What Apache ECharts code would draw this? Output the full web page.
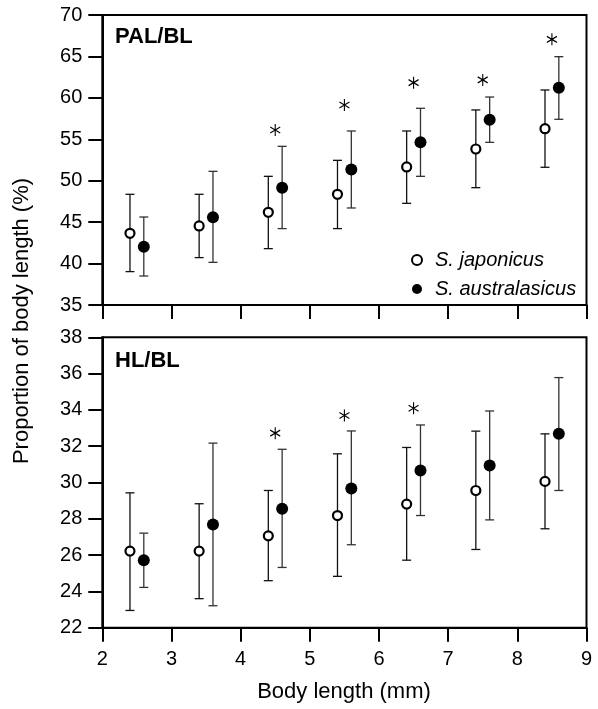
<!DOCTYPE html>
<html><head><meta charset="utf-8">
<script src="https://cdn.jsdelivr.net/npm/echarts@6/dist/echarts.min.js"></script>
<style>html,body{margin:0;padding:0;background:#fff}#c{width:598px;height:709px}</style>
</head><body><div id="c"></div>
<script>
// ---- data ----
const xJap = [2.4, 3.4, 4.4, 5.4, 6.4, 7.4, 8.4];
const xAus = [2.6, 3.6, 4.6, 5.6, 6.6, 7.6, 8.6];

const palJapMean = [43.65, 44.54, 46.19, 48.36, 51.66, 53.83, 56.28];
const palJapLow  = [39.03, 40.72, 41.80, 44.22, 47.27, 49.16, 51.62];
const palJapHigh = [48.36, 48.36, 50.53, 52.46, 56.00, 58.54, 60.95];
const palAusMean = [42.04, 45.58, 49.16, 51.34, 54.63, 57.37, 61.23];
const palAusLow  = [38.50, 40.15, 44.22, 46.71, 50.53, 54.63, 57.41];
const palAusHigh = [45.62, 51.13, 54.15, 56.00, 58.74, 60.10, 64.97];
const palStarX = [4.5, 5.5, 6.5, 7.5, 8.5];
const palStarY = [56.12, 59.14, 61.83, 62.16, 67.06];

const hlJapMean = [26.22, 26.22, 27.06, 28.18, 28.81, 29.56, 30.06];
const hlJapLow  = [22.95, 23.60, 24.59, 24.83, 25.72, 26.31, 27.45];
const hlJapHigh = [29.43, 28.83, 29.56, 31.58, 31.93, 32.83, 32.68];
const hlAusMean = [25.71, 27.69, 28.55, 29.67, 30.66, 30.94, 32.68];
const hlAusLow  = [24.22, 23.21, 25.32, 26.57, 28.18, 27.94, 29.56];
const hlAusHigh = [27.21, 32.17, 31.83, 32.84, 33.17, 33.94, 35.78];
const hlStarX = [4.5, 5.5, 6.5];
const hlStarY = [32.72, 33.69, 34.09];

const seriesNames = ['S. japonicus', 'S. australasicus'];
const panelLabels = ['PAL/BL', 'HL/BL'];
const xTitle = 'Body length (mm)';
const yTitle = 'Proportion of body length (%)';

// ---- helpers ----
const FONT = '"Liberation Sans", Arial, Helvetica, sans-serif';
const zip = (a, b) => a.map((v, i) => [v, b[i]]);
const zip3 = (a, b, c) => a.map((v, i) => [v, b[i], c[i]]);

function errBar(color) {
  return function (params, api) {
    const x = api.value(0), lo = api.value(1), hi = api.value(2);
    const p1 = api.coord([x, lo]), p2 = api.coord([x, hi]);
    const w = 4.5;
    const style = { stroke: color, lineWidth: 1.3, fill: null };
    return { type: 'group', children: [
      { type: 'line', shape: { x1: p1[0], y1: p1[1], x2: p2[0], y2: p2[1] }, style },
      { type: 'line', shape: { x1: p1[0] - w, y1: p1[1], x2: p1[0] + w, y2: p1[1] }, style },
      { type: 'line', shape: { x1: p2[0] - w, y1: p2[1], x2: p2[0] + w, y2: p2[1] }, style }
    ]};
  };
}

const starPath = 'path://M5,0L5,12M0,3L10,9M0,9L10,3';

function panelSeries(idx, jm, jl, jh, am, al, ah, sx, sy) {
  return [
    { type: 'custom', xAxisIndex: idx, yAxisIndex: idx, renderItem: errBar('#111'),
      encode: { x: 0, y: [1, 2] }, data: zip3(xJap, jl, jh), z: 2, silent: true },
    { type: 'custom', xAxisIndex: idx, yAxisIndex: idx, renderItem: errBar('#333'),
      encode: { x: 0, y: [1, 2] }, data: zip3(xAus, al, ah), z: 2, silent: true },
    { name: seriesNames[0], type: 'scatter', xAxisIndex: idx, yAxisIndex: idx,
      symbol: 'circle', symbolSize: 9, z: 5,
      itemStyle: { color: '#fff', borderColor: '#000', borderWidth: 2.2, opacity: 1 },
      data: zip(xJap, jm) },
    { name: seriesNames[1], type: 'scatter', xAxisIndex: idx, yAxisIndex: idx,
      symbol: 'circle', symbolSize: 12, z: 5,
      itemStyle: { color: '#000', opacity: 1 },
      data: zip(xAus, am) },
    { type: 'scatter', xAxisIndex: idx, yAxisIndex: idx, symbol: starPath,
      symbolSize: [10, 12], z: 5, silent: true,
      itemStyle: { color: 'transparent', borderColor: '#000', borderWidth: 1.2, opacity: 1 },
      data: zip(sx, sy) }
  ];
}

const axisCommon = {
  axisLine: { show: true, onZero: false, lineStyle: { color: '#000', width: 2 } },
  axisTick: { show: true, inside: false, length: 14, lineStyle: { color: '#000', width: 2 } },
  splitLine: { show: false },
};

const chart = echarts.init(document.getElementById('c'), null, { renderer: 'canvas' });
chart.setOption({
  animation: false,
  backgroundColor: '#fff',
  grid: [
    { left: 102.3, right: 11.5, top: 15, height: 290, show: true, borderColor: '#000', borderWidth: 2 },
    { left: 102.3, right: 11.5, top: 337.3, height: 290.4, show: true, borderColor: '#000', borderWidth: 2 }
  ],
  xAxis: [
    Object.assign({ type: 'value', gridIndex: 0, min: 2, max: 9, interval: 1,
      axisLabel: { show: false } }, axisCommon),
    Object.assign({ type: 'value', gridIndex: 1, min: 2, max: 9, interval: 1,
      axisLabel: { show: true, margin: 22, fontSize: 20, color: '#000', fontFamily: FONT } }, axisCommon)
  ],
  yAxis: [
    Object.assign({ type: 'value', gridIndex: 0, min: 35, max: 70, interval: 5,
      axisLabel: { margin: 20, fontSize: 20, color: '#000', fontFamily: FONT } }, axisCommon),
    Object.assign({ type: 'value', gridIndex: 1, min: 22, max: 38, interval: 2,
      axisLabel: { margin: 20, fontSize: 20, color: '#000', fontFamily: FONT } }, axisCommon)
  ],
  legend: {
    left: 406, top: 245, orient: 'vertical', itemWidth: 10, itemHeight: 10, itemGap: 9,
    textStyle: { fontStyle: 'italic', fontSize: 20, fontFamily: FONT, color: '#000', padding: [0, 0, 0, 8] },
    selectedMode: false,
    data: [
      { name: seriesNames[0], icon: 'circle', itemStyle: { color: '#fff', borderColor: '#000', borderWidth: 2 } },
      { name: seriesNames[1], icon: 'circle', itemStyle: { color: '#000', borderWidth: 0 } }
    ]
  },
  graphic: [
    { type: 'text', left: 115, top: 26, style: { text: panelLabels[0], font: 'bold 22px ' + FONT, fill: '#000' } },
    { type: 'text', left: 115, top: 350, style: { text: panelLabels[1], font: 'bold 22px ' + FONT, fill: '#000' } },
    { type: 'text', x: 344, y: 692, style: { text: xTitle, font: '22px ' + FONT, fill: '#000', align: 'center', verticalAlign: 'middle' } },
    { type: 'text', x: 22, y: 321, rotation: Math.PI / 2, style: { text: yTitle, font: '22px ' + FONT, fill: '#000', align: 'center', verticalAlign: 'middle' } }
  ],
  series: [].concat(
    panelSeries(0, palJapMean, palJapLow, palJapHigh, palAusMean, palAusLow, palAusHigh, palStarX, palStarY),
    panelSeries(1, hlJapMean, hlJapLow, hlJapHigh, hlAusMean, hlAusLow, hlAusHigh, hlStarX, hlStarY)
  )
});
</script>
</body></html>
